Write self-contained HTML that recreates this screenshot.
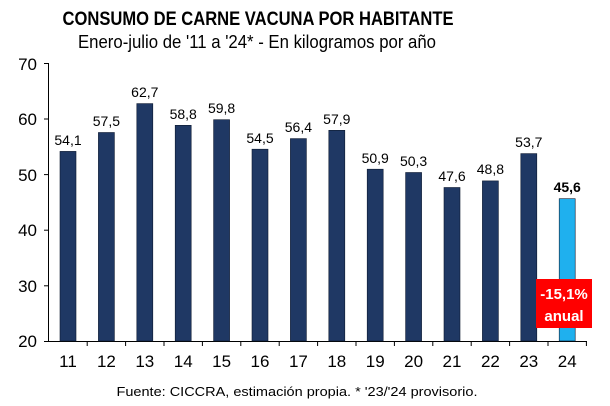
<!DOCTYPE html>
<html><head><meta charset="utf-8"><style>body{margin:0;background:#fff}svg{display:block}</style></head><body>
<svg width="610" height="406" xmlns="http://www.w3.org/2000/svg" font-family="Liberation Sans, Arial, sans-serif">
<rect width="610" height="406" fill="#fff"/>
<text x="258" y="25" font-size="19" font-weight="bold" text-anchor="middle" textLength="391" lengthAdjust="spacingAndGlyphs">CONSUMO DE CARNE VACUNA POR HABITANTE</text>
<text x="257" y="48" font-size="18" text-anchor="middle" textLength="358" lengthAdjust="spacingAndGlyphs">Enero-julio de '11 a '24* - En kilogramos por año</text>
<g stroke="#000" stroke-width="1">
<line x1="48.5" y1="63" x2="48.5" y2="341"/>
<line x1="48" y1="341.5" x2="587" y2="341.5"/>
<line x1="44" y1="63.5" x2="48" y2="63.5"/><line x1="44" y1="119" x2="48" y2="119"/><line x1="44" y1="174.6" x2="48" y2="174.6"/><line x1="44" y1="230.2" x2="48" y2="230.2"/><line x1="44" y1="285.8" x2="48" y2="285.8"/><line x1="44" y1="341.5" x2="48" y2="341.5"/>
<g transform="translate(0,341)">
<line x1="87.2" y1="0" x2="87.2" y2="5"/><line x1="125.6" y1="0" x2="125.6" y2="5"/><line x1="164" y1="0" x2="164" y2="5"/><line x1="202.4" y1="0" x2="202.4" y2="5"/><line x1="240.8" y1="0" x2="240.8" y2="5"/><line x1="279.2" y1="0" x2="279.2" y2="5"/><line x1="317.6" y1="0" x2="317.6" y2="5"/><line x1="356" y1="0" x2="356" y2="5"/><line x1="394.4" y1="0" x2="394.4" y2="5"/><line x1="432.8" y1="0" x2="432.8" y2="5"/><line x1="471.2" y1="0" x2="471.2" y2="5"/><line x1="509.6" y1="0" x2="509.6" y2="5"/><line x1="548" y1="0" x2="548" y2="5"/><line x1="586.4" y1="0" x2="586.4" y2="5"/>
</g></g>
<g font-size="17" text-anchor="end">
<text x="37" y="70">70</text><text x="37" y="125">60</text><text x="37" y="181">50</text><text x="37" y="236">40</text><text x="37" y="292">30</text><text x="37" y="347">20</text>
</g>
<g fill="#1f3864" stroke="#0d1a30" stroke-width="0.6">
<rect x="60" y="151.4" width="16" height="189.6"/>
<rect x="98.4" y="132.5" width="16" height="208.5"/>
<rect x="136.8" y="103.6" width="16" height="237.4"/>
<rect x="175.2" y="125.3" width="16" height="215.7"/>
<rect x="213.6" y="119.7" width="16" height="221.3"/>
<rect x="252" y="149.2" width="16" height="191.8"/>
<rect x="290.4" y="138.6" width="16" height="202.4"/>
<rect x="328.8" y="130.3" width="16" height="210.7"/>
<rect x="367.2" y="169.2" width="16" height="171.8"/>
<rect x="405.6" y="172.5" width="16" height="168.5"/>
<rect x="444" y="187.5" width="16" height="153.5"/>
<rect x="482.4" y="180.9" width="16" height="160.1"/>
<rect x="520.8" y="153.6" width="16" height="187.4"/>
</g>
<rect x="559.2" y="198.7" width="16" height="142.3" fill="#1fb0ee" stroke="#0d1a30" stroke-width="0.6"/>
<g font-size="14" text-anchor="middle">
<text x="68" y="145">54,1</text><text x="106.4" y="126">57,5</text><text x="144.8" y="97">62,7</text><text x="183.2" y="119">58,8</text><text x="221.6" y="113">59,8</text><text x="260" y="143">54,5</text><text x="298.4" y="132">56,4</text><text x="336.8" y="124">57,9</text><text x="375.2" y="163">50,9</text><text x="413.6" y="166">50,3</text><text x="452" y="181">47,6</text><text x="490.4" y="174">48,8</text><text x="528.8" y="147">53,7</text>
<text x="567.2" y="192" font-weight="bold">45,6</text>
</g>
<g font-size="17" text-anchor="middle">
<text x="68" y="367">11</text><text x="106.4" y="367">12</text><text x="144.8" y="367">13</text><text x="183.2" y="367">14</text><text x="221.6" y="367">15</text><text x="260" y="367">16</text><text x="298.4" y="367">17</text><text x="336.8" y="367">18</text><text x="375.2" y="367">19</text><text x="413.6" y="367">20</text><text x="452" y="367">21</text><text x="490.4" y="367">22</text><text x="528.8" y="367">23</text><text x="567.2" y="367">24</text>
</g>
<rect x="536" y="279" width="56" height="49" fill="#f00"/>
<g fill="#fff" font-size="15" font-weight="bold" text-anchor="middle">
<text x="564" y="299">-15,1%</text><text x="564" y="321">anual</text>
</g>
<text x="297" y="396" font-size="13" text-anchor="middle" textLength="361" lengthAdjust="spacingAndGlyphs">Fuente: CICCRA, estimación propia. * '23/'24 provisorio.</text>
</svg>
</body></html>
